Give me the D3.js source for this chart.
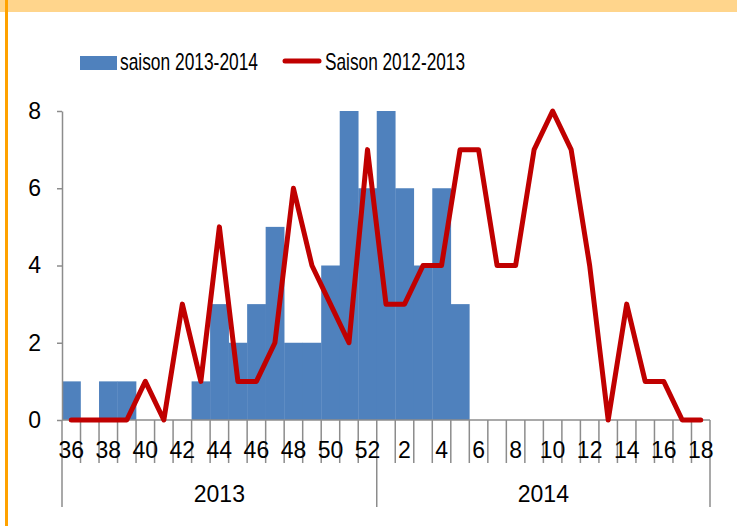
<!DOCTYPE html>
<html>
<head>
<meta charset="utf-8">
<script src="https://d3js.org/d3.v7.min.js"></script>
<style>
  html, body { margin: 0; padding: 0; background: #fff; }
  svg { display: block; }
  text { font-family: Arial, "Liberation Sans", sans-serif; fill: #000; }
</style>
</head>
<body>
<div id="chart"></div>
<script>
// weeks, season 36/2013 -> 18/2014
const weeks2013 = [36, 37, 38, 39, 40, 41, 42, 43, 44, 45, 46, 47, 48, 49, 50, 51, 52];
const weeks2014 = [1, 2, 3, 4, 5, 6, 7, 8, 9, 10, 11, 12, 13, 14, 15, 16, 17, 18];
const years = ['2013', '2014'];

// saison 2013-2014 (bars), null = no data yet
const saison1314 = [1, 0, 1, 1, 0, 0, 0, 1, 3, 2, 3, 5, 2, 2, 4, 8, 6,
  8, 6, 4, 6, 3, null, null, null, null, null, null, null, null, null, null, null, null, null];

// Saison 2012-2013 (line)
const saison1213 = [0, 0, 0, 0, 1, 0, 3, 1, 5, 1, 1, 2, 6, 4, 3, 2, 7,
  3, 3, 4, 4, 7, 7, 4, 4, 7, 8, 7, 4, 0, 3, 1, 1, 0, 0];

const yTicks = [0, 2, 4, 6, 8];
const seriesNames = ['saison 2013-2014', 'Saison 2012-2013'];

const width = 737, height = 526;
const margin = { left: 62, right: 27, top: 111, bottom: 106 };
const blue = '#4F81BD', red = '#C00000', axisGrey = '#8c8c8c';
const fontSize = '23px';

const cats = weeks2013.map(w => '2013-' + w).concat(weeks2014.map(w => '2014-' + w));
const weekOf = k => +k.split('-')[1];

const svg = d3.select('#chart').append('svg')
  .attr('width', width)
  .attr('height', height);

// frame decoration: top band + left border
svg.append('rect').attr('x', 0).attr('y', 0).attr('width', width).attr('height', 12)
  .attr('fill', '#FFD58C');
svg.append('rect').attr('x', 5).attr('y', 0).attr('width', 3).attr('height', height)
  .attr('fill', '#FFA200');

const x = d3.scaleBand()
  .domain(cats)
  .range([margin.left, width - margin.right])
  .padding(0);

const y = d3.scaleLinear()
  .domain([0, 8])
  .range([height - margin.bottom, margin.top]);

const y0 = y(0);

// bars
svg.append('g').selectAll('rect')
  .data(cats.map((c, i) => ({ c, v: saison1314[i] })).filter(d => d.v))
  .enter().append('rect')
  .attr('x', d => x(d.c))
  .attr('y', d => y(d.v))
  .attr('width', x.bandwidth() + 0.3)
  .attr('height', d => y0 - y(d.v))
  .attr('fill', blue);

// y axis
const yAxis = svg.append('g')
  .attr('transform', `translate(${margin.left},0)`)
  .call(d3.axisLeft(y).tickValues(yTicks).tickSize(5).tickPadding(16).tickSizeOuter(0));
yAxis.select('.domain').attr('stroke', axisGrey).attr('stroke-width', 1.5);
yAxis.selectAll('.tick line').attr('stroke', axisGrey).attr('stroke-width', 1.5);
yAxis.selectAll('.tick text')
  .style('font-size', fontSize)
  .style('font-family', 'Arial, "Liberation Sans", sans-serif')
  .attr('fill', '#000');

// x axis: baseline, category boundaries, year separators
const xg = svg.append('g');
xg.append('line')
  .attr('x1', x.range()[0]).attr('x2', x.range()[1])
  .attr('y1', y0).attr('y2', y0)
  .attr('stroke', axisGrey).attr('stroke-width', 1.5);

const boundaries = cats.map(c => x(c)).concat([x.range()[1]]);
const yearEdges = [x(cats[0]), x('2014-1'), x.range()[1]];

xg.selectAll('line.tick')
  .data(boundaries)
  .enter().append('line')
  .attr('class', 'tick')
  .attr('x1', d => d).attr('x2', d => d)
  .attr('y1', y0)
  .attr('y2', d => yearEdges.some(e => Math.abs(e - d) < 0.5) ? y0 + 87 : y0 + 43)
  .attr('stroke', axisGrey).attr('stroke-width', 1.5);

xg.selectAll('text.week')
  .data(cats.filter((c, i) => i % 2 === 0))
  .enter().append('text')
  .attr('class', 'week')
  .attr('x', d => x(d) + x.bandwidth() / 2)
  .attr('y', y0 + 38)
  .attr('text-anchor', 'middle')
  .style('font-size', fontSize)
  .text(d => weekOf(d));

xg.selectAll('text.year')
  .data(years)
  .enter().append('text')
  .attr('class', 'year')
  .attr('x', (d, i) => (yearEdges[i] + yearEdges[i + 1]) / 2)
  .attr('y', y0 + 82)
  .attr('text-anchor', 'middle')
  .style('font-size', fontSize)
  .text(d => d);

// line
const line = d3.line()
  .x((d, i) => x(cats[i]) + x.bandwidth() / 2)
  .y(d => y(d));

svg.append('path')
  .datum(saison1213)
  .attr('d', line)
  .attr('fill', 'none')
  .attr('stroke', red)
  .attr('stroke-width', 5)
  .attr('stroke-linejoin', 'round')
  .attr('stroke-linecap', 'round');

// legend (condensed text, like the original)
const legend = svg.append('g');
legend.append('rect')
  .attr('x', 80).attr('y', 56).attr('width', 37).attr('height', 14)
  .attr('fill', blue);
legend.append('text')
  .attr('x', 120).attr('y', 70)
  .attr('textLength', 138).attr('lengthAdjust', 'spacingAndGlyphs')
  .style('font-size', '24px')
  .text(seriesNames[0]);
legend.append('line')
  .attr('x1', 285).attr('x2', 319).attr('y1', 61).attr('y2', 61)
  .attr('stroke', red).attr('stroke-width', 5).attr('stroke-linecap', 'round');
legend.append('text')
  .attr('x', 325).attr('y', 70)
  .attr('textLength', 140).attr('lengthAdjust', 'spacingAndGlyphs')
  .style('font-size', '24px')
  .text(seriesNames[1]);
</script>
</body>
</html>
